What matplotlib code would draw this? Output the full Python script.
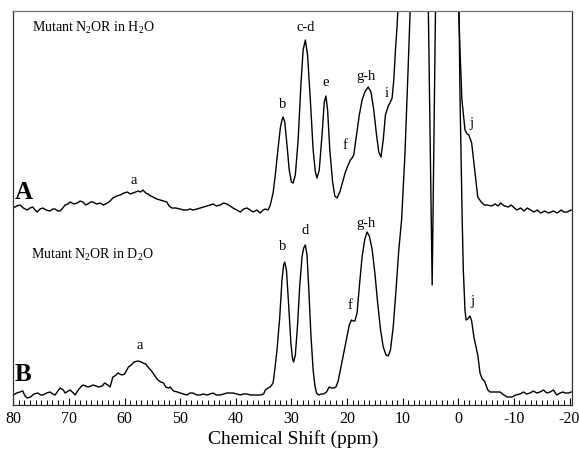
import matplotlib

matplotlib.use("Agg")
import matplotlib.pyplot as plt
from matplotlib.ticker import MultipleLocator

# chemical shift (ppm) and trace height above its own baseline (arb. units)
A_PPM = [80.0, 79.4, 78.8, 78.2, 77.5, 77.0, 76.5, 76.1, 75.7, 75.2, 74.7, 74.1, 73.4, 72.9,
         72.5, 72.0, 71.6, 71.1, 70.7, 70.2, 69.8, 69.1, 68.5, 68.0, 67.5, 67.0, 66.6, 66.1,
         65.7, 65.0, 64.4, 63.8, 63.1, 62.6, 62.1, 61.4, 60.8, 60.1, 59.5, 59.0, 58.5, 58.0,
         57.6, 57.1, 56.7, 56.2, 55.8, 55.3, 54.9, 54.2, 53.6, 53.0, 52.4, 52.0, 51.5, 50.8,
         50.0, 49.4, 48.8, 48.2, 47.7, 47.0, 46.4, 45.8, 45.2, 44.6, 44.1, 43.5, 42.8, 42.2,
         41.6, 41.0, 40.5, 39.8, 39.2, 38.6, 38.0, 37.4, 36.9, 36.2, 35.6, 35.1, 34.7, 34.2,
         33.8, 33.3, 32.9, 32.4, 32.0, 31.7, 31.5, 31.2, 30.8, 30.4, 30.0, 29.7, 29.3, 28.8,
         28.3, 27.9, 27.5, 27.1, 26.6, 26.1, 25.7, 25.4, 25.0, 24.5, 24.1, 23.8, 23.5, 23.1,
         22.6, 22.2, 21.8, 21.3, 20.8, 20.3, 19.8, 19.4, 19.1, 18.8, 18.3, 17.8, 17.3, 16.8,
         16.2, 15.7, 15.2, 14.7, 14.3, 13.9, 13.5, 13.1, 12.6, 12.2, 11.9, 11.6, 11.3, 11.0,
         10.8, 10.0, 9.0, 5.0, 1.0, 0.3, 0.0, -0.3, -0.65, -1.2, -1.6, -1.9, -2.4, -3.0,
         -3.5, -4.1, -4.7, -5.2, -6.0, -6.6, -7.2, -7.6, -8.3, -9.0, -9.5, -9.9, -10.5, -11.2,
         -11.8, -12.4, -13.0, -13.6, -14.2, -14.8, -15.5, -16.2, -17.1, -17.8, -18.5, -19.0,
         -19.6, -20.3]
A_INT = [2, 4, 5, 2, 0, 2, 3, 0, -2, 1, 2, 0, -1, 1,
         1, -1, -1, 2, 5, 6, 8, 6, 7, 9, 8, 5, 6, 8,
         8, 6, 7, 5, 7, 9, 12, 14, 15, 17, 18, 16, 17, 18,
         19, 18, 20, 17, 16, 14, 13, 11, 10, 9, 8, 4, 2, 2,
         1, 0, 0, 1, 0, 1, 2, 3, 4, 5, 6, 4, 5, 7,
         6, 4, 2, 0, -2, 1, 2, 0, -2, 0, -3, 0, 1, 0,
         5, 17, 35, 62, 82, 90, 93, 88, 65, 40, 28, 27, 35, 70,
         125, 160, 170, 155, 110, 60, 38, 32, 40, 75, 108, 114, 100, 60,
         28, 14, 12, 18, 28, 38, 45, 50, 52, 55, 75, 95, 110, 118,
         123, 118, 100, 75, 58, 53, 70, 95, 104, 108, 112, 130, 160, 185,
         205, 300, 500, 600, 500, 400, 215, 160, 110, 80, 76, 75, 67, 37,
         13, 8, 5, 5, 4, 6, 4, 7, 4, 3, 5, 3, 0, 2,
         -1, 2, 0, -2, 0, -3, -1, -3, -1, -3, 0, -2,
         -2, 0]

B_PPM = [80.0, 79.4, 78.8, 78.3, 77.9, 77.5, 76.9, 76.3, 75.6, 75.1, 74.7, 74.0, 73.4, 72.9,
         72.5, 71.6, 71.0, 70.7, 70.1, 69.8, 69.2, 68.9, 68.2, 67.5, 67.0, 66.6, 66.0, 65.7,
         65.1, 64.7, 64.0, 63.6, 63.0, 62.6, 62.1, 61.5, 61.2, 60.5, 60.0, 59.3, 58.8, 58.3,
         57.6, 57.0, 56.7, 56.2, 55.8, 55.3, 54.9, 54.4, 54.0, 53.5, 53.0, 52.6, 52.1, 51.8,
         51.2, 50.5, 50.0, 49.4, 48.8, 48.2, 47.7, 47.0, 46.4, 45.8, 45.2, 44.6, 44.1, 43.5,
         42.8, 42.2, 41.6, 41.0, 40.5, 39.8, 39.2, 38.6, 38.0, 37.4, 36.9, 36.2, 35.6, 35.0,
         34.7, 34.2, 33.8, 33.3, 33.0, 32.6, 32.1, 31.7, 31.4, 31.2, 30.9, 30.5, 30.1, 29.8,
         29.6, 29.3, 28.9, 28.5, 28.1, 27.8, 27.5, 27.2, 26.9, 26.5, 26.1, 25.8, 25.5, 25.1,
         24.6, 24.2, 23.7, 23.2, 22.8, 22.4, 22.0, 21.6, 21.1, 20.6, 20.1, 19.6, 19.2, 18.9,
         18.6, 18.2, 17.8, 17.3, 16.8, 16.4, 16.0, 15.5, 15.0, 14.5, 14.0, 13.5, 13.0, 12.6,
         12.2, 11.7, 11.2, 10.7, 10.2, 9.6, 9.0, 8.5, 7.5, 6.5, 5.6, 5.4, 4.7, 4.1,
         3.9, 3.0, 1.0, 0.0, -0.3, -0.7, -0.9, -1.2, -1.4, -1.7, -2.1, -2.4, -2.8, -3.2,
         -3.5, -3.9, -4.3, -4.7, -5.3, -5.7, -6.2, -7.0, -7.5, -8.2, -8.8, -9.3, -9.7, -10.3,
         -11.1, -11.7, -12.3, -12.9, -13.5, -14.1, -14.7, -15.3, -15.9, -16.5, -17.1, -17.7,
         -18.3, -18.8, -19.2, -19.8, -20.3]
B_INT = [0, 2, 3, 4, -1, -3, -2, 1, 2, 0, 0, 2, 3, 1,
         0, 7, 5, 2, 4, 5, 2, 0, 6, 10, 9, 8, 9, 10,
         9, 8, 9, 12, 10, 8, 18, 20, 22, 20, 21, 28, 30, 33,
         34, 33, 32, 31, 28, 25, 22, 18, 15, 13, 12, 8, 7, 8,
         4, 3, 2, 1, 0, 2, 2, 0, 0, 1, 0, 1, 2, 0,
         0, 1, 2, 2, 2, 1, 0, 1, 1, 0, 0, 0, 0, 1,
         5, 7, 8, 12, 25, 45, 78, 115, 130, 133, 125, 90, 52, 36,
         33, 40, 70, 110, 138, 147, 150, 140, 108, 60, 25, 10, 2, 0,
         1, 1, 3, 8, 7, 7, 8, 14, 28, 42, 56, 70, 75, 74,
         74, 82, 108, 138, 156, 163, 159, 146, 122, 92, 66, 48, 40, 39,
         45, 68, 105, 145, 175, 240, 330, 410, 550, 600, 450, 390, 110, 390,
         450, 600, 600, 450, 300, 175, 125, 85, 75, 76, 79, 74, 58, 48,
         40, 22, 16, 14, 5, 3, 3, 3, 3, 0, -2, -2, -2, 0,
         1, 3, 1, 2, 4, 2, 3, 5, 2, 3, 5, 0,
         2, 3, 2, 2, 3]

PEAKS_A = ["a", "b", "c-d", "e", "f", "g-h", "i", "j"]
PEAKS_B = ["a", "b", "d", "f", "g-h", "j"]

plt.rcParams.update({
    "font.family": "Liberation Serif",
    "mathtext.fontset": "custom",
    "mathtext.rm": "Liberation Serif",
    "mathtext.it": "Liberation Serif:italic",
    "axes.unicode_minus": False,
})

fig = plt.figure(figsize=(5.79, 4.55), dpi=100)
ax = fig.add_axes([0.023, 0.1088, 0.9655, 0.867])

OFF_A, OFF_B = 195.5, 10.5  # baselines of the two stacked traces
ax.plot(A_PPM, [v + OFF_A for v in A_INT], color="black", lw=1.0)
ax.plot(B_PPM, [v + OFF_B for v in B_INT], color="black", lw=1.0)

ax.set_xlim(80, -20.5)
ax.set_ylim(0, 394.5)
ax.set_yticks([])
ax.xaxis.set_major_locator(MultipleLocator(10))
ax.xaxis.set_minor_locator(MultipleLocator(1))
ax.tick_params(axis="x", which="major", direction="in", length=5, width=0.8,
               labelsize=11.5, pad=4)
ax.tick_params(axis="x", which="minor", direction="in", length=3.5, width=0.7)
for s in ax.spines.values():
    s.set_linewidth(0.9)
    s.set_color("0.2")
ax.spines["top"].set_color("0.45")
ax.set_xlabel("Chemical Shift (ppm)", fontsize=14, labelpad=2)

# peak labels
pos_a = [(58.3, 225.5), (31.5, 301.5), (27.5, 378.5), (23.8, 323.5), (20.4, 260.5),
         (16.6, 329.5), (12.9, 312.5), (-2.3, 282.5)]
pos_b = [(57.2, 59.5), (31.5, 159.5), (27.5, 175.5), (19.5, 99.5), (16.6, 182.5),
         (-2.5, 103.5)]
for lab, (x, y) in zip(PEAKS_A, pos_a):
    ax.text(x, y, lab, fontsize=10.5, ha="center", va="center")
for lab, (x, y) in zip(PEAKS_B, pos_b):
    ax.text(x, y, lab, fontsize=10.5, ha="center", va="center")

ax.text(79.7, 213.5, "A", fontsize=18, fontweight="bold", ha="left", va="center")
ax.text(79.7, 30.5, "B", fontsize=18, fontweight="bold", ha="left", va="center")
ax.text(76.6, 377.5, r"Mutant N$_2$OR in H$_2$O", fontsize=10, ha="left", va="center")
ax.text(76.8, 150.5, r"Mutant N$_2$OR in D$_2$O", fontsize=10, ha="left", va="center")

fig.savefig("out.png", dpi=100)
